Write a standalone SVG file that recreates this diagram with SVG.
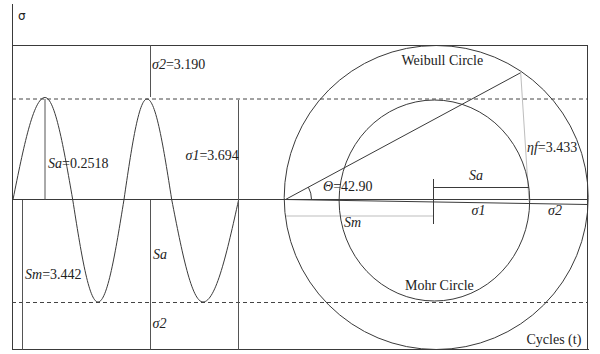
<svg xmlns="http://www.w3.org/2000/svg" width="600" height="354" viewBox="0 0 600 354">
<style>
.ln{stroke:#3a3a3a;stroke-width:1;fill:none}
.gv{stroke:#555;stroke-width:1;fill:none}
.lt{stroke:#bdbdbd;stroke-width:1;fill:none}
.ds{stroke:#444;stroke-width:1;stroke-dasharray:4,3;fill:none}
text{font-family:"Liberation Serif","Times New Roman",serif;font-size:14px;fill:#222}
.it{font-style:italic}
.sans{font-family:"DejaVu Sans","Liberation Sans",sans-serif;font-size:12px}
</style>
<rect width="600" height="354" fill="#fff"/>
<g id="frame">
<line class="ln" x1="12.5" y1="4" x2="12.5" y2="349.5"/>
<line class="ln" x1="12" y1="45.5" x2="588" y2="45.5"/>
<line class="ln" x1="587.5" y1="45.5" x2="587.5" y2="349.5"/>
<line class="ln" x1="12" y1="349.5" x2="589" y2="349.5"/>
<line class="ln" x1="12" y1="199.5" x2="588" y2="199.5"/>
<line class="ds" x1="12" y1="99" x2="587" y2="99"/>
<line class="ds" x1="12" y1="302.5" x2="587" y2="302.5"/>
</g>
<g id="wave">
<path class="ln" d="M13,199.5 C23.4,148 33.4,97.5 45,97.5 C55,97.5 63.7,148 72.7,199.5 C80.9,252 88.8,302 98,302 C107.4,302 115.5,252 124,199.5 C131.5,148 138.7,99 147,99 C155.9,99 163.6,148 171.7,199.5 C181.9,252 191.7,302 203,302 C215.9,302 227.1,252 238.7,199.5"/>
</g>
<g id="connectors">
<line class="gv" x1="45" y1="99" x2="45" y2="199.5"/>
<line class="gv" x1="150.5" y1="45.5" x2="150.5" y2="97"/>
<line class="gv" x1="238.5" y1="100" x2="238.5" y2="349.5"/>
<line class="gv" x1="22.5" y1="200" x2="22.5" y2="349.5"/>
<line class="gv" x1="150.5" y1="200" x2="150.5" y2="349.5"/>
<line class="ln" x1="285.5" y1="199.5" x2="588" y2="204.5"/>
<line class="ln" x1="285.5" y1="199.5" x2="520.7" y2="72.7"/>
<line class="lt" x1="520.7" y1="72.7" x2="529" y2="201.5"/>
<line class="lt" x1="286" y1="216" x2="434" y2="216"/>
<line class="ln" x1="433.5" y1="179" x2="433.5" y2="224"/>
<line class="ln" x1="433.5" y1="187.5" x2="529" y2="187.5"/>
<path class="ln" d="M311.5,199.5 A26,26 0 0 0 308.4,187.2"/>
</g>
<g id="weibull">
<circle class="ln" cx="436.2" cy="197.5" r="152"/>
</g>
<g id="mohr">
<ellipse class="ln" cx="434.4" cy="200.5" rx="95.3" ry="100.5"/>
</g>
<g id="labels">
<text class="sans" x="18" y="20">σ</text>
<text x="152" y="69"><tspan class="it">σ2</tspan>=3.190</text>
<text x="48" y="168"><tspan class="it">Sa</tspan>=0.2518</text>
<text x="185.5" y="159.5"><tspan class="it">σ1</tspan>=3.694</text>
<text x="25" y="278.5"><tspan class="it">Sm</tspan>=3.442</text>
<text class="it" x="153" y="258.5">Sa</text>
<text class="it" x="152.5" y="328">σ2</text>
<text x="401.5" y="65">Weibull Circle</text>
<text x="527" y="152"><tspan class="it">ηf</tspan>=3.433</text>
<text class="it" x="469" y="179.5">Sa</text>
<text class="it" x="471.5" y="215">σ1</text>
<text class="it" x="548" y="215">σ2</text>
<text x="323" y="190.5"><tspan class="it">Θ</tspan>=42.90</text>
<text class="it" x="344" y="226.5">Sm</text>
<text x="405" y="290">Mohr Circle</text>
<text x="526.5" y="343.5">Cycles (t)</text>
</g>
</svg>
